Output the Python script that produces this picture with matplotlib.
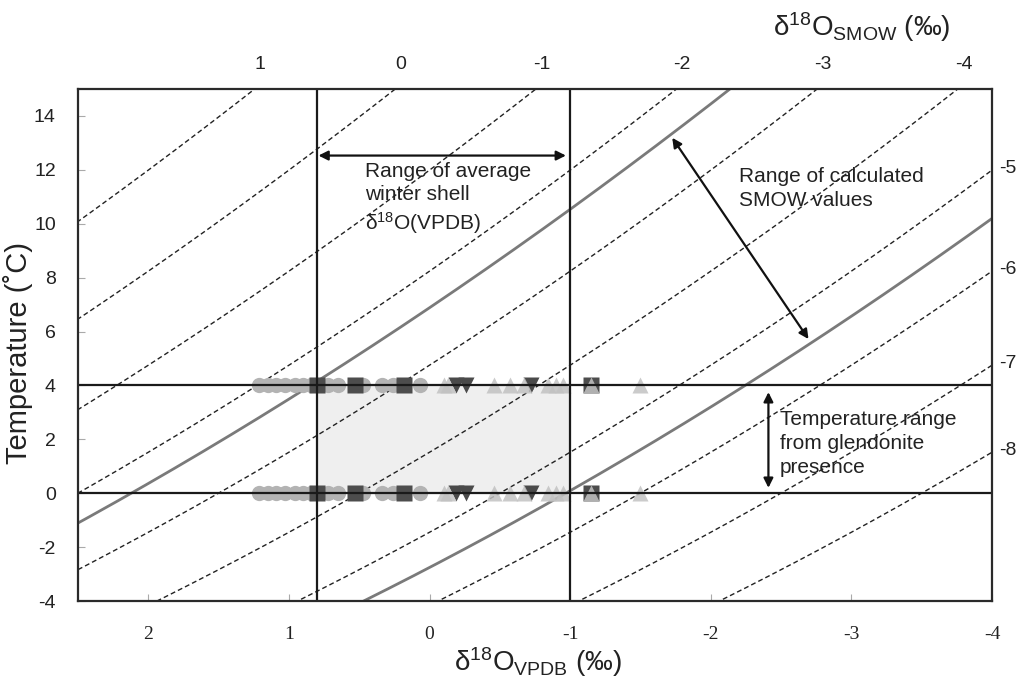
import numpy as np
import matplotlib
matplotlib.use('Agg')
import matplotlib.pyplot as plt

plt.rcParams['font.family'] = ['Liberation Sans', 'DejaVu Sans']
plt.rcParams['mathtext.fontset'] = 'custom'
plt.rcParams['mathtext.rm'] = 'Liberation Sans'
plt.rcParams['mathtext.it'] = 'Liberation Sans:italic'
plt.rcParams['mathtext.bf'] = 'Liberation Sans:bold'
plt.rcParams['axes.unicode_minus'] = False

# paleotemperature equation T = a + b*d + c*d^2, d = d18O(calcite, VPDB) - d18O(water, SMOW)
eq_a, eq_b, eq_c = 16.0, -4.14, 0.13

# water isolines (SMOW) drawn dashed
smow_lines = [1, 0, -1, -2, -3, -4, -5, -6, -7, -8]
top_labels = [1, 0, -1, -2, -3, -4]
right_labels = [-5, -6, -7, -8]

# bounds of calculated SMOW values (solid grey)
smow_bounds = [-2.38, -5.47]

# winter shell range (VPDB) and glendonite temperature range
shell_range = [0.8, -1.0]
temp_range = [0.0, 4.0]

# shell data along the two temperature limits
circle_x = [1.21, 1.15, 1.09, 1.03, 0.96, 0.90, 0.84, 0.72, 0.65, 0.47, 0.34, 0.26, 0.07]
square_x = [0.80, 0.53, 0.185, -1.15]
tri_up_x = [-0.10, -0.13, -0.46, -0.57, -0.67, -0.84, -0.90, -0.95, -1.15, -1.50]
tri_down_x = [-0.19, -0.26, -0.72]

xticks = [2, 1, 0, -1, -2, -3, -4]
yticks = [-4, -2, 0, 2, 4, 6, 8, 10, 12, 14]


def temp(dc, dw):
    d = dc - dw
    return eq_a + eq_b * d + eq_c * d ** 2


def dc_at(t, dw):
    # solve eq for d (smaller root)
    disc = eq_b ** 2 - 4 * eq_c * (eq_a - t)
    d = (-eq_b - np.sqrt(disc)) / (2 * eq_c)
    return dw + d


fig = plt.figure(figsize=(10.17, 6.82), dpi=100)
ax = fig.add_axes([78 / 1017, 1 - 601 / 682, 914 / 1017, 512 / 682])

xs = np.linspace(2.6, -4.1, 300)

# shaded box
ax.fill_between(shell_range, temp_range[0], temp_range[1], color='#efefef', zorder=0)

# dashed isolines
for w in smow_lines:
    ax.plot(xs, temp(xs, w), color='#222222', lw=1.0, ls=(0, (3.5, 2.2)), zorder=1)

# solid grey bounds
for w in smow_bounds:
    ax.plot(xs, temp(xs, w), color='#7a7a7a', lw=2.0, zorder=2)

# markers at both temperature limits
for t in temp_range:
    ax.plot(circle_x, [t] * len(circle_x), 'o', ms=11, color='#b3b3b3', mec='none', zorder=3)
    ax.plot(square_x, [t] * len(square_x), 's', ms=11, color='#4d4d4d', mec='none', zorder=4)
    ax.plot(tri_down_x, [t] * len(tri_down_x), 'v', ms=12, color='#4a4a4a', mec='none', zorder=4)
    ax.plot(tri_up_x, [t] * len(tri_up_x), '^', ms=11, color='#c2c2c2', mec='none', alpha=0.85, zorder=5)

# black reference lines
for x in shell_range:
    ax.axvline(x, color='#1a1a1a', lw=1.6, zorder=6)
for t in temp_range:
    ax.axhline(t, color='#1a1a1a', lw=1.6, zorder=6)

ax.set_xlim(2.5, -4)
ax.set_ylim(-4, 15)

ax.set_xticks(xticks)
ax.set_xticklabels([str(v) for v in xticks], family='Liberation Serif', fontsize=14, color='#222222')
ax.set_yticks(yticks)
ax.set_yticklabels([str(v) for v in yticks], fontsize=14, color='#222222')
ax.tick_params(axis='x', direction='in', length=5, color='#aaaaaa', pad=18)
ax.tick_params(axis='y', direction='in', length=5, color='#aaaaaa', pad=16)
for s in ax.spines.values():
    s.set_color('#2a2a2a')
    s.set_linewidth(1.6)
    s.set_zorder(7)

# top and right labels for the isolines
for w in top_labels:
    ax.text(dc_at(15, w) - 0.04, 15.9, str(w), ha='center', va='center', fontsize=14, color='#222222')
for w in right_labels:
    ax.text(-4.05, temp(-4, w) + 0.05, str(w), ha='left', va='center', fontsize=14, color='#222222')

# axis titles
fig.text(862 / 1017, 1 - 27 / 682, 'δ$^{18}$O$_{\\mathrm{SMOW}}$ (‰)', ha='center', va='center',
         fontsize=20, color='#222222')
fig.text(538 / 1017, 1 - 662 / 682, 'δ$^{18}$O$_{\\mathrm{VPDB}}$ (‰)', ha='center', va='center',
         fontsize=20, color='#222222')
fig.text(18.5 / 1017, 1 - 353 / 682, 'Temperature (˚C)', rotation=90, ha='center', va='center',
         fontsize=21, color='#222222')

# annotations
ax.text(0.46, 12.3, 'Range of average\nwinter shell\nδ$^{18}$O(VPDB)', ha='left', va='top',
        fontsize=15, color='#222222', linespacing=1.3, zorder=8)
ax.text(-2.20, 12.1, 'Range of calculated\nSMOW values', ha='left', va='top',
        fontsize=15, color='#222222', linespacing=1.3, zorder=8)
ax.text(-2.49, 3.1, 'Temperature range\nfrom glendonite\npresence', ha='left', va='top',
        fontsize=15, color='#222222', linespacing=1.35, zorder=8)

arrow = dict(arrowstyle='<|-|>', color='#111111', lw=1.6, mutation_scale=14, shrinkA=0, shrinkB=0)
ax.annotate('', xy=(0.79, 12.53), xytext=(-0.97, 12.53), arrowprops=arrow, zorder=8)
ax.annotate('', xy=(-1.726, 13.19), xytext=(-2.695, 5.72), arrowprops=arrow, zorder=8)
ax.annotate('', xy=(-2.41, 3.75), xytext=(-2.41, 0.2), arrowprops=arrow, zorder=8)

fig.savefig('out.png', dpi=100)
